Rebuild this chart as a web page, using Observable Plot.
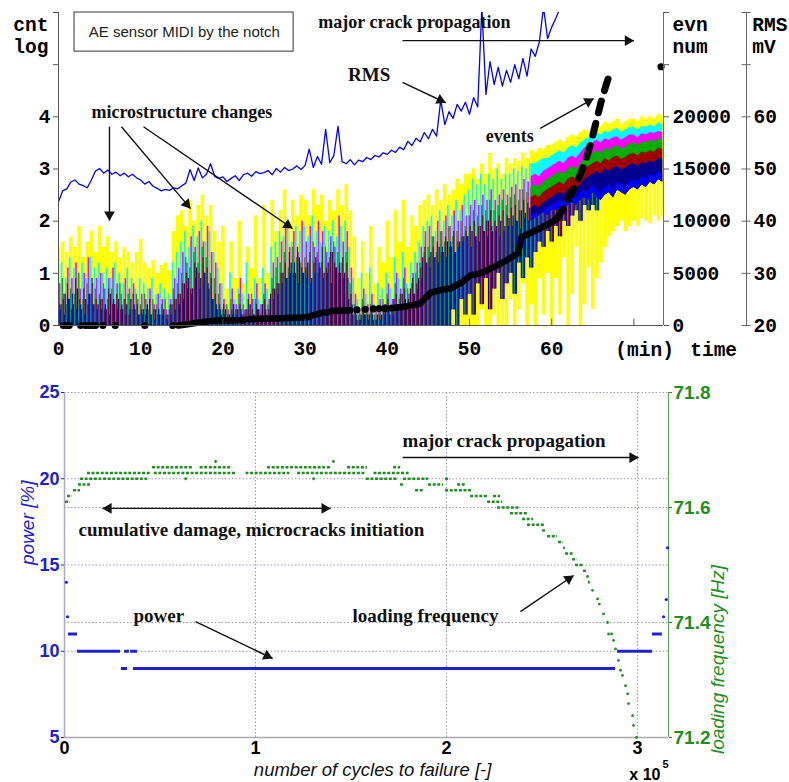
<!DOCTYPE html>
<html><head><meta charset="utf-8">
<script src="https://cdn.jsdelivr.net/npm/d3@7"></script>
<script src="https://cdn.jsdelivr.net/npm/@observablehq/plot@0.6"></script>
<style>
html,body{margin:0;padding:0;background:#fff;overflow:hidden;}
#wrap{position:relative;width:789px;height:782px;overflow:hidden;background:#fff;}
#top{position:absolute;left:0;top:0;}
#bot{position:absolute;left:0;top:370px;}
</style></head>
<body><div id="wrap"><div id="top"></div><div id="bot"></div></div>
<script>
// ---------------- TOP PANEL DATA (AE sensor, time in min, sampled every 0.5 min) ----------------
const aeYellow = [
1.5,1.6,1.4,1.7,1.5,1.9,1.3,1.6,1.8,1.4,
1.9,1.5,1.7,1.4,1.6,1.3,1.5,1.4,1.2,1.4,
1.65,1.2,1.1,1.25,1.0,1.15,1.2,1.05,1.8,2.1,
2.2,1.9,2.4,2.0,2.3,2.5,2.1,2.3,1.8,1.6,
1.9,0.7,1.6,0.9,2.0,0.8,1.5,1.1,2.1,0.9,
2.3,1.0,2.4,1.8,2.2,2.6,2.0,2.4,2.1,2.5,
2.4,2.1,2.6,2.3,2.5,2.0,2.4,2.2,2.6,2.3,
2.7,2.2,1.7,0.9,1.6,1.0,1.9,0.8,1.5,1.2,
2.0,1.3,2.2,1.6,2.4,1.5,2.1,1.9,2.3,2.4,
2.5,2.3,2.6,2.4,2.7,2.5,2.6,2.8,2.7,2.9,
2.9,3.0,2.8,3.1,2.9,3.3,3.0,3.1,2.9,3.2,
3.1,3.2,3.15,3.3,3.2,3.35,3.3,3.4,3.35,3.45,
3.45,3.5,3.55,3.5,3.6,3.65,3.6,3.7,3.75,3.7,
3.8,3.85,3.8,3.9,3.85,3.9,3.95,3.85,3.9,3.95,
3.95,3.9,4.0,3.95,4.0,3.95,4.05,4.0];
const aeCyan = [
1.0,1.2,0.9,1.3,1.1,1.0,1.2,0.9,1.3,1.1,
1.2,1.0,1.1,0.9,1.2,1.0,0.8,1.1,0.9,0.7,
0.9,0.8,0.7,0.9,0.6,0.8,0.7,0.6,1.2,1.4,
1.6,1.8,1.5,1.9,1.7,2.0,1.6,1.8,1.4,1.1,
0.8,0.4,1.0,0.5,0.7,0.6,1.2,0.4,0.9,0.5,
1.1,0.7,1.5,1.6,1.8,1.7,2.0,1.6,1.9,1.8,
1.9,1.7,2.1,1.8,1.6,1.9,1.8,2.0,1.7,1.9,
2.0,1.5,0.9,0.5,1.0,0.6,1.1,0.4,0.8,0.7,
1.0,0.7,1.3,0.9,1.4,0.8,1.2,1.4,1.6,1.9,
2.0,2.1,1.8,2.2,2.0,2.3,2.1,2.4,2.2,2.5,
2.6,2.8,2.7,2.9,2.7,2.9,2.8,3.0,2.8,2.9,
2.9,3.0,2.95,3.05,3.0,3.1,3.1,3.15,3.2,3.2,
3.25,3.3,3.35,3.3,3.4,3.45,3.4,3.5,3.55,3.6,
3.65,3.7,3.65,3.72,3.7,3.75,3.78,3.7,3.75,3.8,
3.8,3.75,3.82,3.8,3.85,3.8,3.88,3.85];
const aeMagenta = [
0.8,0.6,1.1,0.9,1.2,0.7,1.0,1.3,0.8,0.9,
1.0,0.7,0.9,1.1,0.8,0.6,0.9,0.7,0.8,0.5,
0.6,0.5,0.7,0.4,0.6,0.5,0.3,0.5,0.9,1.1,
1.4,1.2,1.7,1.5,1.8,1.6,1.9,1.4,1.2,0.8,
0.5,0.3,0.7,0.4,0.9,0.3,0.6,0.5,0.8,0.4,
0.8,0.5,1.2,1.3,1.6,1.9,1.5,1.8,1.4,2.0,
1.6,1.9,1.5,2.0,1.8,1.4,1.7,1.5,2.1,1.6,
1.8,1.1,0.6,0.3,0.7,0.4,0.6,0.3,0.5,0.4,
0.8,0.5,1.0,0.7,1.1,0.6,1.0,1.2,1.5,1.8,
1.9,1.7,2.0,1.8,2.1,1.9,2.2,2.0,2.3,2.1,
2.3,2.4,2.3,2.5,2.4,2.6,2.4,2.5,2.6,2.5,
2.65,2.7,2.6,2.8,2.75,2.85,2.9,2.85,2.95,3.0,
3.05,3.1,3.15,3.1,3.2,3.25,3.2,3.3,3.4,3.45,
3.5,3.55,3.5,3.58,3.55,3.6,3.62,3.55,3.6,3.65,
3.65,3.6,3.68,3.65,3.7,3.68,3.72,3.7];
const aeGreen = [
0.5,0.9,0.4,0.7,0.6,1.0,0.5,0.8,0.6,0.7,
0.6,0.8,0.5,0.7,0.4,0.8,0.5,0.6,0.3,0.6,
0.4,0.6,0.3,0.5,0.4,0.2,0.5,0.3,0.7,0.8,
1.0,1.3,1.1,1.4,1.2,1.5,1.3,1.0,0.9,0.6,
0.3,0.4,0.5,0.2,0.6,0.4,0.3,0.6,0.5,0.3,
0.6,0.4,0.9,1.1,1.2,1.4,1.1,1.5,1.3,1.2,
1.3,1.2,1.6,1.4,1.2,1.5,1.3,1.6,1.4,1.2,
1.4,0.8,0.4,0.2,0.5,0.3,0.4,0.2,0.3,0.5,
0.6,0.4,0.8,0.5,0.9,0.7,0.8,1.0,1.2,1.4,
1.5,1.7,1.4,1.8,1.6,1.9,1.7,1.8,2.0,1.9,
2.1,2.2,2.1,2.3,2.2,2.4,2.2,2.3,2.4,2.3,
2.45,2.5,2.4,2.6,2.55,2.65,2.7,2.65,2.75,2.8,
2.85,2.9,2.95,2.9,3.0,3.05,3.0,3.1,3.2,3.25,
3.3,3.35,3.3,3.4,3.35,3.42,3.45,3.38,3.42,3.48,
3.5,3.45,3.52,3.5,3.55,3.52,3.58,3.55];
const aeDarkRed = [
0.4,0.5,0.8,0.3,0.9,0.5,0.7,0.4,0.9,0.5,
0.5,0.3,0.7,0.4,0.6,0.3,0.5,0.2,0.6,0.4,
0.3,0.2,0.5,0.3,0.2,0.4,0.2,0.4,0.5,0.6,
0.8,1.0,0.7,1.2,1.0,1.3,1.1,0.9,0.6,0.4,
0.4,0.2,0.3,0.3,0.4,0.2,0.5,0.3,0.4,0.2,
0.5,0.3,0.7,0.8,1.0,1.2,1.4,1.0,1.5,1.1,
1.1,1.4,1.2,1.0,1.5,1.1,1.4,1.2,1.0,1.3,
1.2,0.6,0.3,0.1,0.3,0.2,0.3,0.1,0.2,0.3,
0.5,0.3,0.6,0.6,0.7,0.5,0.9,0.8,1.1,1.5,
1.3,1.5,1.6,1.4,1.7,1.5,1.8,1.6,1.7,1.8,
1.9,2.0,1.9,2.1,2.0,2.2,2.0,2.1,2.2,2.1,
2.25,2.3,2.2,2.4,2.35,2.45,2.5,2.45,2.55,2.6,
2.65,2.7,2.75,2.7,2.8,2.85,2.8,2.9,3.0,3.05,
3.1,3.15,3.1,3.2,3.15,3.22,3.25,3.18,3.22,3.28,
3.3,3.25,3.32,3.3,3.35,3.32,3.4,3.38];
const aeNavy = [
0.3,0.4,0.6,0.5,0.4,0.7,0.3,0.5,0.6,0.4,
0.4,0.5,0.3,0.6,0.4,0.5,0.3,0.4,0.5,0.3,
0.2,0.3,0.4,0.2,0.3,0.2,0.3,0.2,0.4,0.5,
0.6,0.8,0.9,0.7,1.1,0.9,1.0,0.7,0.5,0.3,
0.2,0.3,0.2,0.4,0.3,0.2,0.3,0.4,0.2,0.3,
0.4,0.2,0.6,0.7,0.8,1.0,0.9,1.2,1.0,1.3,
1.0,1.2,0.9,1.3,1.1,1.0,1.2,1.4,1.1,1.0,
1.0,0.5,0.2,0.1,0.2,0.2,0.2,0.1,0.2,0.2,
0.4,0.2,0.5,0.4,0.6,0.4,0.7,0.6,0.9,1.3,
1.2,1.4,1.3,1.5,1.4,1.6,1.5,1.4,1.6,1.7,
1.7,1.8,1.7,1.9,1.8,2.0,1.8,1.9,2.0,1.9,
2.05,2.1,2.0,2.2,2.15,2.25,2.3,2.25,2.35,2.4,
2.45,2.5,2.55,2.5,2.6,2.65,2.6,2.7,2.8,2.85,
2.9,2.95,2.9,3.0,2.95,3.02,3.05,2.98,3.02,3.08,
3.1,3.05,3.12,3.1,3.15,3.12,3.2,3.18];
const aeBlue = [
0.3,0.2,0.5,0.6,0.3,0.4,0.2,0.6,0.4,0.3,
0.3,0.4,0.2,0.5,0.3,0.4,0.2,0.3,0.4,0.2,
0.2,0.3,0.2,0.1,0.3,0.2,0.1,0.2,0.3,0.4,
0.5,0.7,0.6,0.9,0.7,1.0,0.8,0.5,0.4,0.3,
0.2,0.1,0.2,0.2,0.3,0.1,0.2,0.2,0.3,0.1,
0.3,0.2,0.5,0.6,0.8,0.9,1.0,1.2,0.8,1.0,
0.9,0.8,1.0,1.2,0.9,1.0,0.8,1.1,1.2,0.9,
0.9,0.4,0.2,0.1,0.2,0.1,0.2,0.1,0.1,0.2,
0.3,0.2,0.4,0.4,0.5,0.3,0.6,0.7,0.9,1.2,
1.1,1.3,1.2,1.5,1.3,1.6,1.4,1.5,1.6,1.7,
1.5,1.7,1.6,1.8,1.7,1.9,1.8,1.7,1.8,1.9,
1.9,2.0,1.85,2.05,2.0,2.1,2.15,2.1,2.2,2.25,
2.3,2.35,2.4,2.35,2.45,2.5,2.4,2.55,2.6,2.55,
2.7,2.6,2.55,2.65,2.7,2.6,2.75,2.7,2.65,2.75,
2.8,2.75,2.85,2.8,2.9,2.85,2.95,2.9];
// lower ends of the spikes from t = 48 min on (before that they reach 0)
const floorStartTime = 48;
const aeColorFloor = [
0.3,0,0.5,0.2,
0.6,0.2,0.8,0.4,0.9,0.3,0.7,1.0,0.5,0.8,
1.0,0.6,1.2,0.9,1.3,1.1,1.4,1.6,1.5,1.8,
1.6,1.9,1.7,2.0,1.9,2.1,2.2,2.0,2.3,2.2,
2.3,2.2,2.4,2.35,2.45,2.4,2.5,2.45,2.5,2.55,
2.55,2.6,2.55,2.65,2.6,2.7,2.65,2.7];
const aeYellowFloor = [
0,0,0,0,
0,0,0,0.3,0,0,0.2,0,0,0,
0.5,0,0.3,0.8,0,0.4,0,0.9,0.2,1.0,
0,0.9,0.2,1.3,0,0.6,1.5,0,0.4,1.1,
0.3,0.9,1.2,1.5,1.7,1.8,1.9,2.0,1.8,1.9,
2.0,1.9,2.05,2.0,1.95,2.1,2.0,2.1];
// lower edge of the banded traces from t = 57.5 min on
const bandStartTime = 57.5;
const aeBandFloor = [
2.0,
2.05,2.1,2.15,2.1,
2.2,2.2,2.25,2.2,2.3,2.35,2.3,2.4,2.45,2.4,
2.55,2.45,2.4,2.5,2.55,2.45,2.6,2.55,2.5,2.6,
2.65,2.6,2.7,2.65,2.75,2.7,2.8,2.75];

// RMS (mV), every 0.5 min
const rmsValues = [
43.7,45.8,46.2,47.5,47.9,47.1,46.8,46.4,47.9,49.6,
50.1,49.2,49.8,49.0,49.4,48.7,49.2,48.5,49.0,48.3,
47.9,47.1,47.6,46.7,46.3,45.8,46.1,45.9,46.4,46.2,
46.8,47.3,49.9,47.8,50.2,48.3,49.0,51.0,48.6,48.2,
48.5,47.6,48.2,48.7,47.8,48.9,49.2,48.6,49.5,49.1,
49.3,49.7,48.9,50.1,49.4,50.3,49.7,50.0,50.6,49.9,
50.7,53.8,50.3,52.4,50.9,57.6,51.2,52.6,58.2,51.4,
51.0,51.8,50.8,51.7,51.4,52.2,51.8,52.6,52.3,53.1,
52.8,53.6,53.2,54.2,53.7,55.3,54.5,55.9,55.2,57.0,
55.8,57.6,56.3,63.2,58.5,61.0,59.7,62.4,61.1,62.8,
60.5,63.7,61.9,81.0,64.3,70.6,66.2,69.5,65.9,68.9,
66.6,70.0,67.3,71.2,67.8,73.0,71.6,74.4,81.0,75.0,
77.2,78.9,80.8,82.5];

// cumulative events (evn num)
const eventDotTime  = [0.6,1.0,1.3,2.7,3.3,3.7,4.1,4.5,5.4,6.9,10.5,13.9,22.4,36.3,37.3,38.3,39.0,39.7,73.3];
const eventDotCount = [0,0,0,0,0,0,0,0,0,0,0,0,500,1500,1550,1600,1620,1640,24800];
const eventTrackTime  = [14.6,15.5,16.5,17.5,18.5,19.5,20.0,NaN,20.4,21.8,NaN,23.0,25.0,27.0,29.5,30.3,31.0,32.0,32.7,NaN,33.2,35.5,NaN,40.4,42.0,44.0,44.6,45.3,46.5,47.7,49.0,50.1,51.3,52.9,54.5,55.9,56.1,56.3,58.1,59.8,60.6];
const eventTrackCount = [0,100,220,330,420,470,480,NaN,480,500,NaN,600,650,700,760,800,1000,1200,1250,NaN,1400,1450,NaN,1650,1800,2100,2600,3150,3400,3560,4100,4800,5000,5580,6250,6920,7600,8460,9130,9800,10200];
const eventDashTime  = [60.6,61.5,62.3,63.0,63.6,64.2,64.8,65.4,66.0,66.6,67.0];
const eventDashCount = [10200,11300,12600,13600,14700,16000,17600,19500,21400,23000,24000];

const cntTicks = [0,1,2,3,4,5,6];
const cntLabels = ["0","1","2","3","4","",""];
const evnPerCnt = 5000;            // right axis: events
const rmsTickLabels = [20,30,40,50,60];
const rmsBase = 20, rmsPerCnt = 10; // RMS axis: mV
const timeTicks = [0,10,20,30,40,50,60,70];

// ---------------- BOTTOM PANEL DATA ----------------
const powerRuns = [[2100,6800,11],[6800,29300,10],[31500,34000,10],[34600,38200,10],[29800,33000,9],[36100,288500,9],[289500,307800,10],[307800,313000,11]];
const powerDots = [[1000,14],[1600,12],[313600,12],[315000,13],[315700,16]];
const freqRuns = [
[500,3100,71.61],[1600,4200,71.62],[4700,8400,71.63],[7300,13600,71.64],
[8400,43500,71.65],[158000,174300,71.65],[177500,190600,71.65],[199500,201100,71.65],
[12000,45000,71.66],[47000,90000,71.66],[95000,118000,71.66],[122000,158000,71.66],[162000,181200,71.66],
[46100,67500,71.67],[71000,88000,71.67],[106300,140000,71.67],[148200,158600,71.67],[172300,176000,71.67],
[175900,177500,71.64],[190600,198400,71.64],[205800,210000,71.64],
[183800,188000,71.63],[199500,213600,71.63],
[212600,221500,71.62],[224600,228300,71.62],
[221500,229300,71.61],[226700,238700,71.60],[233500,242400,71.59],[239800,245600,71.58],
[242400,251800,71.57],[250300,251800,71.56],[252900,258100,71.55],[258600,261300,71.54],
[261300,262300,71.53],[262300,266500,71.52],[266000,268600,71.51],[267500,271700,71.50],
[271700,273800,71.49],[274300,275400,71.47]];
const freqDots = [[63400,71.65],[130400,71.65],[79100,71.68],[140800,71.68],[273800,71.48],[276400,71.456],[279100,71.441],[280000,71.432],[282200,71.415],[284300,71.40],[284800,71.38],[286400,71.38],[287400,71.369],[288500,71.354],[290000,71.334],[291100,71.317],[292100,71.308],[293700,71.29],[294800,71.276],[295300,71.259],[297400,71.238],[297900,71.221],[299500,71.20]];
const powerTicks = [5,10,15,20,25];
const freqTicks = [71.2,71.4,71.6,71.8];
const cycleTicks = [0,100000,200000,300000];

// ---------------- helpers ----------------
function arrowMarks(list, kx, ky, color = "#111") {
  const heads = [];
  for (const a of list) {
    const ends = a.both ? [[a.x1,a.y1,a.x2,a.y2],[a.x2,a.y2,a.x1,a.y1]] : [[a.x1,a.y1,a.x2,a.y2]];
    for (const [sx,sy,ex,ey] of ends) {
      const dxp = (ex - sx) * kx, dyp = -(ey - sy) * ky;
      const L = Math.hypot(dxp, dyp), ux = dxp / L, uy = dyp / L;
      const back = 6;
      heads.push({x: ex - ux * back / kx, y: ey + uy * back / ky, rot: Math.atan2(ux, -uy) * 180 / Math.PI});
    }
  }
  return [
    Plot.link(list, {x1: "x1", y1: "y1", x2: "x2", y2: "y2", stroke: color, strokeWidth: 1.4}),
    Plot.dot(heads, {x: "x", y: "y", symbol: "triangle", r: 4, fill: color, stroke: "none", rotate: "rot"})
  ];
}

// ---------------- TOP PLOT ----------------
const T = {width: 789, height: 370, ml: 58, mr: 126, mt: 12, mb: 45, xmax: 73.6, ymax: 6};
const kxT = (T.width - T.ml - T.mr) / T.xmax;
const kyT = (T.height - T.mt - T.mb) / T.ymax;

const step = 0.5;
const aeTime = aeYellow.map((_, i) => i * step);
const aeSeries = [
  {values: aeYellow,  color: "#ffff00", width: 3.6, dx: 0,    yellow: true},
  {values: aeCyan,    color: "#00ffff", width: 1.7, dx: -1.1},
  {values: aeMagenta, color: "#ff00ff", width: 1.6, dx: 1.1},
  {values: aeGreen,   color: "#00b000", width: 1.4, dx: -0.2},
  {values: aeDarkRed, color: "#a00000", width: 1.3, dx: 0.7},
  {values: aeNavy,    color: "#000090", width: 1.2, dx: -1.6},
  {values: aeBlue,    color: "#0000ff", width: 1.2, dx: 1.7}
];
const spikeEnd = 66;   // colored spikes end here; afterwards only the bands remain
const spikeMarks = [], bandMarks = [];
for (const s of aeSeries) {
  const rows = aeTime.map((t, i) => {
    const fi = Math.round((t - floorStartTime) / step);
    const lo = fi >= 0 ? (s.yellow ? aeYellowFloor[fi] : aeColorFloor[fi]) : 0;
    const bi = Math.round((t - bandStartTime) / step);
    return {t, lo, hi: s.values[i], band: bi >= 0 ? aeBandFloor[bi] : null};
  });
  spikeMarks.push(Plot.ruleX(rows.filter(d => s.yellow || d.t < spikeEnd), {x: "t", y1: "lo", y2: "hi", stroke: s.color, strokeWidth: s.width, dx: s.dx, clip: true}));
  bandMarks.push(Plot.areaY(rows.filter(d => d.band !== null), {x: "t", y1: "band", y2: "hi", fill: s.color, clip: true}));
}

const rmsRows = rmsValues.map((v, i) => ({t: i * step, v}));
const toCnt = v => (v - rmsBase) / rmsPerCnt;
const evDots = eventDotTime.map((t, i) => ({t, n: eventDotCount[i]}));
const evTrack = eventTrackTime.map((t, i) => ({t, n: eventTrackCount[i]}));
const evDash = eventDashTime.map((t, i) => ({t, n: eventDashCount[i]}));

const rmsAxisX = 83.7;
const topArrows = [
  {x1: 41.85, y1: 5.46, x2: 70.0, y2: 5.46},
  {x1: 41.85, y1: 4.66, x2: 47.1, y2: 4.27},
  {x1: 6.2,  y1: 3.81, x2: 6.2,  y2: 2.01},
  {x1: 7.66, y1: 3.81, x2: 16.06, y2: 2.24},
  {x1: 10.34, y1: 3.81, x2: 28.47, y2: 1.86},
  {x1: 58.6, y1: 3.78, x2: 65.1, y2: 4.35}
];
const serif = {fontFamily: "Liberation Serif", fontWeight: "bold", fill: "#111"};

const topPlot = Plot.plot({
  width: T.width, height: T.height,
  marginLeft: T.ml, marginRight: T.mr, marginTop: T.mt, marginBottom: T.mb,
  x: {domain: [0, T.xmax], axis: null},
  y: {domain: [0, T.ymax], axis: null},
  style: {fontFamily: "Liberation Mono", fontSize: "19.5px", fontWeight: "bold", color: "#000", background: "white", overflow: "visible"},
  marks: [
    Plot.rect([0], {x1: 1.95, x2: 28.6, y1: 5.25, y2: 6.0, fill: "white", stroke: "#333", strokeWidth: 1}),
    Plot.text(["AE sensor MIDI by the notch"], {x: 15.3, y: 5.63, fontFamily: "Liberation Sans", fontWeight: "normal", fontSize: 15, fill: "#222"}),
    ...spikeMarks,
    ...bandMarks,
    Plot.line(rmsRows, {x: "t", y: d => toCnt(d.v), stroke: "#0000ff", strokeWidth: 1.3, clip: true}),
    Plot.line(evTrack, {x: "t", y: d => d.n / evnPerCnt, stroke: "#000", strokeWidth: 6.5, strokeLinecap: "round", strokeLinejoin: "round"}),
    Plot.line(evDash, {x: "t", y: d => d.n / evnPerCnt, stroke: "#000", strokeWidth: 7, strokeLinecap: "round", strokeDasharray: "12,11"}),
    Plot.dot(evDots, {x: "t", y: d => d.n / evnPerCnt, r: 3.6, fill: "#000"}),
    Plot.ruleX([0], {y1: 0, y2: T.ymax, stroke: "#555"}),
    Plot.ruleX([T.xmax], {y1: 0, y2: T.ymax, stroke: "#5a5aee"}),
    Plot.ruleX([rmsAxisX], {y1: 0, y2: T.ymax, stroke: "#666"}),
    Plot.ruleY([0], {x1: 0, x2: T.xmax, stroke: "#555"}),
    Plot.ruleX(timeTicks.slice(1), {y1: 0, y2: 0.12, stroke: "#555"}),
    Plot.axisY({anchor: "left", ticks: cntTicks, tickFormat: (d, i) => cntLabels[i], tickSize: 5, tickPadding: 3, stroke: "#555"}),
    Plot.axisY({anchor: "right", ticks: cntTicks, tickFormat: (d, i) => (d <= 4 ? String(d * evnPerCnt) : ""), tickSize: 5, tickPadding: 4, stroke: "#555"}),
    Plot.ruleY(cntTicks, {x1: rmsAxisX - 0.55, x2: rmsAxisX + 0.55, stroke: "#666"}),
    Plot.text(rmsTickLabels, {x: 84.55, y: d => toCnt(d), text: d => String(d), textAnchor: "start"}),
    Plot.axisX({anchor: "bottom", ticks: timeTicks, tickFormat: d => (d < 70 ? String(d) : ""), tickSize: 0, tickPadding: 16}),
    Plot.text(["(min)"], {x: 71.3, y: -0.456}),
    Plot.text(["time"], {x: 79.7, y: -0.456}),
    Plot.text(["cnt"], {x: -1.22, y: 5.77, textAnchor: "end"}),
    Plot.text(["log"], {x: -1.22, y: 5.35, textAnchor: "end"}),
    Plot.text(["evn"], {x: 74.7, y: 5.77, textAnchor: "start"}),
    Plot.text(["num"], {x: 74.7, y: 5.35, textAnchor: "start"}),
    Plot.text(["RMS"], {x: 84.4, y: 5.77, textAnchor: "start"}),
    Plot.text(["mV"], {x: 84.4, y: 5.35, textAnchor: "start"}),
    Plot.text(["major crack propagation"], {x: 31.6, y: 5.805, textAnchor: "start", fontSize: 18, ...serif}),
    Plot.text(["RMS"], {x: 37.8, y: 4.81, fontSize: 19, ...serif}),
    Plot.text(["microstructure changes"], {x: 15.0, y: 4.08, fontSize: 18, ...serif}),
    Plot.text(["events"], {x: 54.9, y: 3.62, fontSize: 18, ...serif}),
    ...arrowMarks(topArrows, kxT, kyT)
  ]
});
document.getElementById("top").appendChild(topPlot);

// ---------------- BOTTOM PLOT ----------------
const B = {width: 789, height: 412, ml: 64, mr: 121, mt: 22, mb: 45, xmax: 316200, ymin: 5, ymax: 25};
const kxB = (B.width - B.ml - B.mr) / B.xmax;
const kyB = (B.height - B.mt - B.mb) / (B.ymax - B.ymin);
const fMin = 71.2, fMax = 71.8;
const freqToP = f => B.ymin + (f - fMin) / (fMax - fMin) * (B.ymax - B.ymin);
const pToFreq = p => fMin + (p - B.ymin) / (B.ymax - B.ymin) * (fMax - fMin);
const blue = "#2020d0", green = "#1f8f1f", gridC = "#9a9ac0";

const botArrows = [
  {x1: 177000, y1: 21.23, x2: 300500, y2: 21.23},
  {x1: 19900, y1: 18.28, x2: 139300, y2: 18.28, both: true},
  {x1: 68600, y1: 11.72, x2: 108900, y2: 9.58},
  {x1: 238700, y1: 12.30, x2: 266500, y2: 14.39}
];
const serifB = {fontFamily: "Liberation Serif", fontWeight: "bold", fontSize: 19, fill: "#111", textAnchor: "start"};

const botPlot = Plot.plot({
  width: B.width, height: B.height,
  marginLeft: B.ml, marginRight: B.mr, marginTop: B.mt, marginBottom: B.mb,
  x: {domain: [0, B.xmax], axis: null},
  y: {domain: [B.ymin, B.ymax], axis: null},
  style: {fontFamily: "Liberation Sans", fontSize: "18px", fontWeight: "bold", color: "#000", background: "white", overflow: "visible"},
  marks: [
    Plot.ruleX(cycleTicks.slice(1), {y1: B.ymin, y2: B.ymax, stroke: gridC, strokeDasharray: "1.5,2"}),
    Plot.ruleY([...powerTicks.slice(1), ...freqTicks.slice(1, 3).map(freqToP)], {stroke: gridC, strokeDasharray: "1.5,2"}),
    Plot.ruleX([0], {y1: B.ymin, y2: B.ymax, stroke: "#a8a8c8", strokeWidth: 1.5}),
    Plot.ruleY([B.ymin], {stroke: "#aaaaaa", strokeWidth: 1.5}),
    Plot.ruleX([B.xmax], {y1: B.ymin, y2: B.ymax, stroke: "#5aa85a", strokeWidth: 1.2}),
    Plot.ruleY(freqRuns, {x1: d => d[0], x2: d => d[1], y: d => freqToP(d[2]), stroke: green, strokeWidth: 2.4, strokeDasharray: "3,1.6"}),
    Plot.dot(freqDots, {x: d => d[0], y: d => freqToP(d[1]), r: 1.4, fill: green}),
    Plot.ruleY(powerRuns, {x1: d => d[0], x2: d => d[1], y: d => d[2], stroke: blue, strokeWidth: 3}),
    Plot.dot(powerDots, {x: d => d[0], y: d => d[1], r: 1.6, fill: blue}),
    Plot.axisY({anchor: "left", ticks: powerTicks, tickSize: 3, tickPadding: 2, color: blue}),
    Plot.axisY({anchor: "right", ticks: freqTicks.map(freqToP), tickFormat: d => pToFreq(d).toFixed(1), tickSize: 3, tickPadding: 2, color: green, fontSize: 19}),
    Plot.axisX({anchor: "bottom", ticks: cycleTicks, tickFormat: d => String(d / 100000), tickSize: 0, tickPadding: 4}),
    Plot.text(["power [%]"], {frameAnchor: "left", dx: -37, rotate: -90, fill: blue, fontStyle: "italic", fontWeight: "normal", fontSize: 19}),
    Plot.text(["loading frequency [Hz]"], {frameAnchor: "right", dx: 49, rotate: -90, fill: green, fontStyle: "italic", fontWeight: "normal", fontSize: 19}),
    Plot.text(["number of cycles to failure [-]"], {x: 161300, y: 3.14, fontStyle: "italic", fontWeight: "normal", fontSize: 18.5, fill: "#111"}),
    Plot.text(["x 10"], {x: 312000, y: 2.86, textAnchor: "end", fontSize: 16}),
    Plot.text(["5"], {x: 314700, y: 3.41, fontSize: 11}),
    Plot.text(["major crack propagation"], {x: 177000, y: 22.22, ...serifB}),
    Plot.text(["cumulative damage, microcracks initiation"], {x: 7300, y: 17.01, ...serifB}),
    Plot.text(["power"], {x: 36100, y: 12.02, ...serifB}),
    Plot.text(["loading frequency"], {x: 150800, y: 12.02, ...serifB}),
    ...arrowMarks(botArrows, kxB, kyB)
  ]
});
document.getElementById("bot").appendChild(botPlot);
</script>
</body></html>
